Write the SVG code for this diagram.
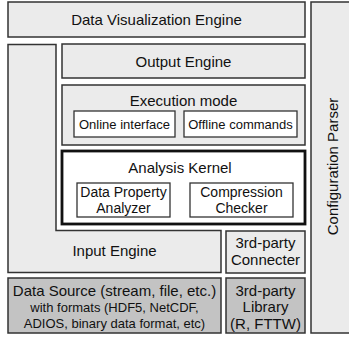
<svg xmlns="http://www.w3.org/2000/svg" width="349" height="337" viewBox="0 0 349 337">
<style>
.box{fill:#ebebeb;stroke:#333;stroke-width:1.5}
.white{fill:#fff;stroke:#333;stroke-width:1.3}
.dark{fill:#c3c3c3;stroke:#333;stroke-width:1.5}
.thick{fill:#fff;stroke:#111;stroke-width:2.8}
text{font-family:"Liberation Sans",Arial,sans-serif;fill:#111;text-anchor:middle}
.t15{font-size:15px}
.t14{font-size:14px}
.t13{font-size:13px}
</style>
<rect width="349" height="337" fill="#fff"/>
<g id="config-parser">
<rect class="box" x="311" y="2" width="60" height="331"/>
<text class="t15" transform="translate(338,166.5) rotate(-90)">Configuration Parser</text>
</g>
<g id="data-visualization-engine">
<rect class="box" x="8" y="2" width="297" height="35"/>
<text class="t15" x="156.5" y="24.5">Data Visualization Engine</text>
</g>
<g id="input-engine">
<path class="box" d="M8,44.5 H56 V230.5 H221 V272.5 H8 Z"/>
<text class="t15" x="114.5" y="256">Input Engine</text>
</g>
<g id="output-engine">
<rect class="box" x="62" y="44" width="243" height="34"/>
<text class="t15" x="183.5" y="66.5">Output Engine</text>
</g>
<g id="execution-mode">
<rect class="box" x="62" y="85" width="243" height="60"/>
<text class="t15" x="183.5" y="105.5">Execution mode</text>
</g>
<g id="online-interface">
<rect class="white" x="74" y="111" width="101" height="26"/>
<text class="t13" x="124.5" y="129">Online interface</text>
</g>
<g id="offline-commands">
<rect class="white" x="184" y="111" width="113" height="26"/>
<text class="t13" x="240.5" y="129">Offline commands</text>
</g>
<g id="analysis-kernel">
<rect class="thick" x="62" y="151" width="243" height="73"/>
<text class="t15" x="180" y="173">Analysis Kernel</text>
</g>
<g id="data-property-analyzer">
<rect class="white" x="77" y="183" width="93" height="34"/>
<text class="t14" x="123.5" y="196.5">Data Property</text>
<text class="t14" x="123.5" y="212.5">Analyzer</text>
</g>
<g id="compression-checker">
<rect class="white" x="190" y="183" width="103" height="34"/>
<text class="t14" x="241.5" y="196.5">Compression</text>
<text class="t14" x="241.5" y="212.5">Checker</text>
</g>
<g id="third-party-connecter">
<rect class="box" x="226" y="231" width="79" height="42"/>
<text class="t15" x="265.5" y="247.5">3rd-party</text>
<text class="t15" x="265.5" y="265">Connecter</text>
</g>
<g id="data-source">
<rect class="dark" x="8" y="278" width="213" height="55"/>
<text class="t15" x="114.5" y="295.5">Data Source (stream, file, etc.)</text>
<text class="t13" x="114.5" y="312">with formats (HDF5, NetCDF,</text>
<text class="t13" x="114.5" y="327.5">ADIOS, binary data format, etc)</text>
</g>
<g id="third-party-library">
<rect class="dark" x="226" y="278" width="79" height="55"/>
<text class="t15" x="265.5" y="295.5">3rd-party</text>
<text class="t15" x="265.5" y="312">Library</text>
<text class="t15" x="265.5" y="328.5">(R, FTTW)</text>
</g>
<g id="connectors"></g>
</svg>
